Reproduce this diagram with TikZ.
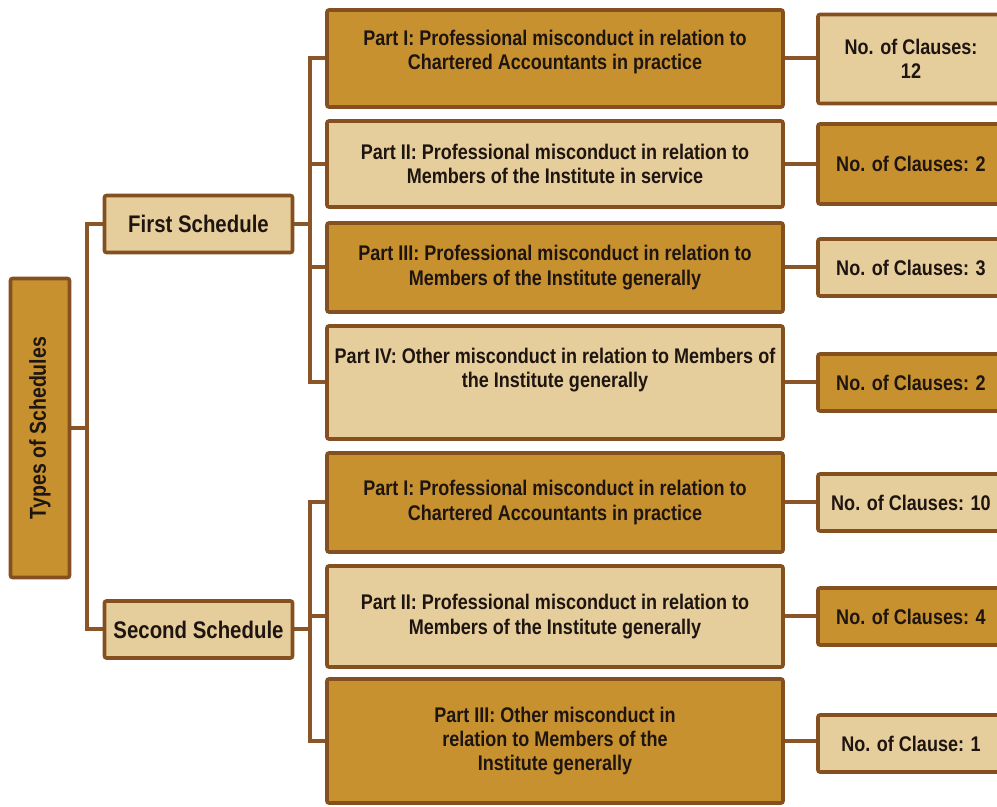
\documentclass[tikz,border=0pt]{standalone}
\usepackage{fontspec}
\setmainfont[FakeStretch=0.85]{Liberation Sans}
\usepackage{graphicx}
\definecolor{scdark}{HTML}{C8912F}
\definecolor{sclight}{HTML}{E6CD9C}
\definecolor{scedge}{HTML}{85501F}
\definecolor{scline}{HTML}{8A5628}
\definecolor{sctext}{HTML}{1E1510}
\usetikzlibrary{calc, backgrounds}

\begin{document}
\begin{tikzpicture}[
  x=0.5pt, y=-0.5pt,
  box/.style={rectangle, draw=scedge, line width=1.8pt,
              rounded corners=1pt, align=center, inner sep=0pt,
              text=sctext, font=\bfseries\fontsize{10.6}{12.2}\selectfont},
  darkfill/.style={fill=scdark},
  lightfill/.style={fill=sclight},
  partbox/.style={box, minimum width=228pt},
  clausebox/.style={box, minimum width=93pt, minimum height=28.5pt},
  schedbox/.style={box, lightfill, minimum width=94pt, minimum height=28.5pt,
                   font=\bfseries\fontsize{12}{14}\selectfont},
  txt/.style={align=center, text=sctext, inner sep=0pt,
              font=\bfseries\fontsize{10.6}{12.2}\selectfont},
  link/.style={draw=scline, line width=2pt}
]
  \useasboundingbox (0,0) rectangle (997,807);
  \clip (0,0) rectangle (997,807);

  % root and schedules
  \node[box, darkfill, minimum width=29.5pt, minimum height=149.5pt,
        font=\bfseries\fontsize{11.5}{13}\selectfont] (types) at (40,428)
    {\rotatebox{90}{Types of Schedules}};
  \node[schedbox] (first) at (198.5,224) {First Schedule};
  \node[schedbox] (second) at (198.5,629.5) {Second Schedule};

  % parts of the first schedule
  \node[partbox, darkfill, minimum height=48.5pt] (f1) at (555,58.5) {};
  \node[txt] (f1t) at ($(f1)+(0,-6.5)$)
    {Part I: Professional misconduct in relation to\\Chartered Accountants in practice};
  \node[partbox, lightfill, minimum height=43pt] (f2) at (555,164)
    {Part II: Professional misconduct in relation to\\Members of the Institute in service};
  \node[partbox, darkfill, minimum height=44.5pt] (f3) at (555,267.5)
    {Part III: Professional misconduct in relation to\\Members of the Institute generally};
  \node[partbox, lightfill, minimum height=56.5pt] (f4) at (555,382.5) {};
  \node[txt] (f4t) at ($(f4)+(0,-12.5)$)
    {Part IV: Other misconduct in relation to Members of\\the Institute generally};

  % parts of the second schedule
  \node[partbox, darkfill, minimum height=49.5pt] (s1) at (555,502.5)
    {Part I: Professional misconduct in relation to\\Chartered Accountants in practice};
  \node[partbox, lightfill, minimum height=50.5pt] (s2) at (555,616.5)
    {Part II: Professional misconduct in relation to\\Members of the Institute generally};
  \node[partbox, darkfill, minimum height=62pt] (s3) at (555,741)
    {Part III: Other misconduct in\\relation to Members of the\\Institute generally};

  % clause counts
  \node[clausebox, lightfill, minimum height=44.5pt] (c1) at (911,59)
    {No. of Clauses:\\12};
  \node[clausebox, darkfill, minimum height=40pt] (c2) at (911,164)
    {No. of Clauses: 2};
  \node[clausebox, lightfill] (c3) at (911,267.5) {No. of Clauses: 3};
  \node[clausebox, darkfill] (c4) at (911,382.5) {No. of Clauses: 2};
  \node[clausebox, lightfill] (c5) at (911,502.5) {No. of Clauses: 10};
  \node[clausebox, darkfill] (c6) at (911,616.5) {No. of Clauses: 4};
  \node[clausebox, lightfill] (c7) at (911,743.5) {No. of Clause: 1};

  \coordinate (rootbus) at (87,428);
  \coordinate (fbus) at (310,224);
  \coordinate (sbus) at (310,629.5);

  \begin{scope}[on background layer]
    \draw[link] (types.east) -- (rootbus);
    \draw[link] (first.west) -| (rootbus) |- (second.west);
    \draw[link] (first.east) -- (fbus);
    \draw[link] (f1.west) -| (fbus) |- (f4.west);
    \foreach \p in {f2,f3}
      \draw[link] (fbus |- \p.west) -- (\p.west);
    \draw[link] (second.east) -- (sbus);
    \draw[link] (s1.west) -| (sbus) |- (s3.west);
    \draw[link] (sbus |- s2.west) -- (s2.west);
    \foreach \p/\c in {f1/c1, f2/c2, f3/c3, f4/c4, s1/c5, s2/c6, s3/c7}
      \draw[link] (\p.east) -- (\p.east -| \c.west);
  \end{scope}
\end{tikzpicture}
\end{document}
